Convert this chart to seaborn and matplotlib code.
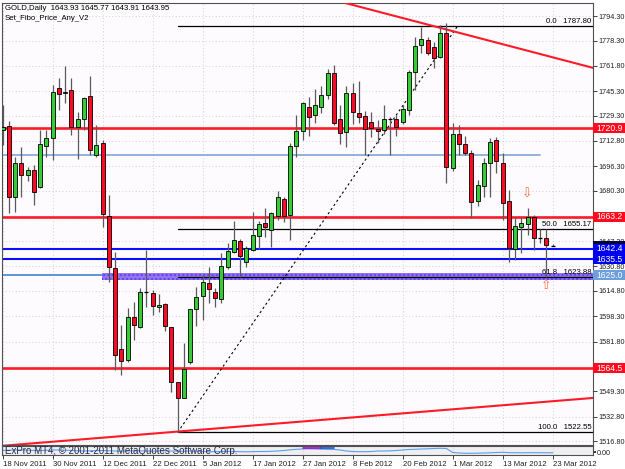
import matplotlib
matplotlib.use("Agg")
import matplotlib.pyplot as plt
from matplotlib.patches import Rectangle
import numpy as np
import pandas as pd
import seaborn as sns

# ---------------- data ----------------
opens = [1719.9, 1722.5, 1676.2, 1698.4, 1690.5, 1693.8, 1682.7, 1709.4, 1714.7, 1747.3,
         1744.0, 1746.0, 1721.9, 1727.1, 1742.1, 1703.6, 1711.4, 1663.8, 1629.8, 1577.0,
         1569.8, 1597.8, 1591.3, 1614.2, 1613.5, 1604.4, 1606.3, 1591.3, 1555.4, 1545.0,
         1568.5, 1603.1, 1611.5, 1620.0, 1614.2, 1609.6, 1630.5, 1640.3, 1647.4, 1633.7,
         1641.6, 1650.7, 1659.2, 1654.6, 1663.8, 1674.9, 1664.4, 1709.4, 1719.2, 1734.9,
         1729.7, 1734.9, 1742.7, 1757.1, 1727.1, 1718.6, 1744.0, 1731.0, 1729.0, 1725.1,
         1720.5, 1719.9, 1727.1, 1727.1, 1725.1, 1732.9, 1757.7, 1775.4, 1778.6, 1774.1,
         1767.5, 1783.2, 1695.1, 1717.3, 1710.8, 1704.9, 1673.6, 1683.3, 1698.4, 1713.4,
         1698.4, 1673.6, 1642.2, 1656.6, 1658.5, 1663.1, 1649.4, 1649.4, 1643.93]
highs = [1736.2, 1725.8, 1702.3, 1708.8, 1695.7, 1697.0, 1719.9, 1719.9, 1749.3, 1753.8,
         1761.7, 1753.8, 1731.6, 1741.4, 1755.1, 1723.2, 1713.4, 1677.5, 1640.3, 1592.6,
         1603.7, 1607.6, 1616.8, 1641.6, 1615.5, 1612.9, 1607.0, 1591.5, 1555.6, 1580.9,
         1603.3, 1617.4, 1625.3, 1630.5, 1616.8, 1639.6, 1646.1, 1660.5, 1648.7, 1644.2,
         1666.4, 1660.5, 1669.0, 1666.4, 1680.1, 1676.2, 1711.4, 1729.7, 1738.2, 1741.4,
         1746.7, 1748.6, 1759.7, 1762.3, 1736.2, 1748.6, 1750.6, 1751.9, 1732.3, 1731.6,
         1726.4, 1736.2, 1728.4, 1729.7, 1736.2, 1759.1, 1780.6, 1787.1, 1780.6, 1777.3,
         1788.4, 1789.7, 1724.5, 1723.2, 1716.0, 1706.8, 1687.3, 1701.6, 1714.7, 1715.3,
         1704.9, 1680.7, 1663.1, 1663.1, 1669.0, 1664.4, 1655.3, 1655.3, 1645.77]
lows = [1710.1, 1665.7, 1666.4, 1676.2, 1686.6, 1670.9, 1682.0, 1702.3, 1700.3, 1732.9,
        1737.5, 1716.6, 1701.0, 1719.9, 1703.6, 1702.3, 1656.6, 1620.7, 1563.2, 1560.0,
        1568.5, 1582.8, 1590.7, 1604.4, 1599.1, 1601.1, 1588.7, 1548.9, 1522.55, 1544.8,
        1567.2, 1592.0, 1595.9, 1607.0, 1604.4, 1607.0, 1629.2, 1639.6, 1623.9, 1630.5,
        1640.9, 1642.2, 1650.1, 1643.5, 1661.2, 1659.8, 1648.1, 1702.3, 1713.4, 1716.0,
        1724.5, 1731.0, 1740.1, 1723.2, 1710.8, 1708.8, 1723.8, 1724.5, 1703.6, 1715.3,
        1711.4, 1717.3, 1703.6, 1716.0, 1723.8, 1729.7, 1746.0, 1770.1, 1768.8, 1760.4,
        1766.9, 1685.3, 1693.1, 1703.6, 1703.6, 1662.5, 1670.3, 1676.2, 1676.2, 1691.8,
        1661.2, 1633.7, 1635.0, 1639.6, 1651.4, 1641.6, 1646.1, 1623.9, 1643.91]
closes = [1721.9, 1676.2, 1698.4, 1690.5, 1693.8, 1679.4, 1710.8, 1714.7, 1744.7, 1743.4,
          1744.7, 1721.9, 1727.1, 1740.8, 1706.8, 1710.1, 1665.1, 1630.5, 1573.0, 1569.1,
          1597.8, 1592.6, 1614.2, 1614.3, 1605.0, 1605.7, 1592.0, 1555.4, 1545.0, 1563.9,
          1603.1, 1610.9, 1620.7, 1616.1, 1610.2, 1631.1, 1640.9, 1648.1, 1637.7, 1642.9,
          1651.4, 1658.5, 1656.6, 1665.7, 1676.2, 1663.8, 1709.4, 1719.2, 1737.5, 1728.4,
          1736.2, 1742.7, 1757.1, 1724.5, 1717.9, 1744.0, 1731.6, 1728.4, 1720.5, 1721.2,
          1719.2, 1727.1, 1727.2, 1721.9, 1733.6, 1757.7, 1774.7, 1779.3, 1770.1, 1766.9,
          1783.2, 1695.7, 1717.3, 1710.8, 1704.9, 1672.9, 1684.0, 1698.4, 1712.1, 1699.7,
          1672.2, 1642.9, 1657.2, 1659.2, 1663.1, 1649.4, 1649.3, 1644.8, 1643.95]

date_labels = ["18 Nov 2011", "30 Nov 2011", "12 Dec 2011", "22 Dec 2011", "5 Jan 2012",
               "17 Jan 2012", "27 Jan 2012", "8 Feb 2012", "20 Feb 2012", "1 Mar 2012",
               "13 Mar 2012", "23 Mar 2012"]
date_label_bars = [0, 8, 16, 24, 32, 40, 48, 56, 64, 72, 80, 88]

price_ticks = [1794.30, 1778.30, 1761.80, 1745.30, 1729.30, 1712.80, 1696.30, 1680.30,
               1663.80, 1647.30, 1630.80, 1614.80, 1598.30, 1581.80, 1565.30, 1549.30,
               1532.80, 1516.80]
hidden_ticks = [1663.80, 1565.30]   # covered by the level boxes in the reference

level_prices = [1720.9, 1663.2, 1642.4, 1635.5, 1625.0, 1564.5]
level_labels = ["1720.9", "1663.2", "1642.4", "1635.5", "1625.0", "1564.5"]
level_colors = ["#ff1a28", "#ff1a28", "#0a10ff", "#0a10ff", "#5f93d8", "#ff1a28"]
level_widths = [1.9, 1.9, 1.5, 1.5, 1.4, 1.9]
level_box_colors = ["#ff0a1e", "#ff0a1e", "#0000f0", "#0000f0", "#6c9ddc", "#ff0a1e"]

fibo_levels = ["0.0", "50.0", "61.8", "100.0"]
fibo_prices = [1787.80, 1655.17, 1623.88, 1522.55]
fibo_anchor_bars = [28.0, 72.8]
fibo_anchor_prices = [1522.55, 1787.80]

steel_line_bars = [-0.5, 86.0]
steel_line_price = 1703.6

band_start_bar = 15.9
band_prices = [1622.0, 1626.6]

upper_trend_bars = [54.8, 94.5]
upper_trend_prices = [1802.8, 1760.4]
lower_trend_bars = [-0.5, 94.5]
lower_trend_prices = [1513.6, 1545.0]

arrow_down = (83.9, 1678.1)
arrow_up = (87.0, 1618.1)

indicator = [0.15, 0.18, 0.2, 0.2, 0.18, 0.15, 0.15, 0.17, 0.2,
             0.2, 0.18, 0.15, 0.12, 0.1, 0.12, 0.15, 0.15, 0.12, 0.1, 0.08, 0.1, 0.12,
             0.12, 0.1, 0.08, 0.1, 0.12, 0.1, 0.08, 0.08, 0.1, 0.1,
             0.05, 0.03, 0.03, 0.05, 0.07, 0.05, 0.03, 0.02, 0.03, 0.05, 0.05, 0.07,
             0.1, 0.15, 0.22, 0.27,
             0.3, 0.32, 0.3, 0.28, 0.27, 0.25, 0.2, 0.1, 0.05, 0.03,
             0.03, 0.05, 0.1, 0.1, 0.12, 0.15,
             0.2, 0.25, 0.27, 0.3, 0.32, 0.35, 0.37, 0.35,
             -0.05, -0.1, -0.13, -0.13, -0.12, -0.1, -0.08, -0.05,
             -0.03,
             -0.07, -0.07, -0.08, -0.07, -0.07, -0.07, -0.08, -0.07]
purple_bars = [48, 49, 50, 51]
purple_vals = [0.37, 0.37, 0.37, 0.37]
navy_bars = [51, 52, 53]
navy_vals = [0.45, 0.45, 0.45]

# ---------------- figure ----------------
sns.set_theme(style="white")
plt.rcParams["font.family"] = ["Liberation Sans", "DejaVu Sans"]

W, H = 625, 469
fig = plt.figure(figsize=(W / 100, H / 100), dpi=100, facecolor="white")
ax = fig.add_axes([2 / W, (H - 445) / H, 591 / W, 442 / H])
ax2 = fig.add_axes([2 / W, (H - 455) / H, 591 / W, 9 / H], sharex=ax)

XMIN, XMAX = -0.11, 94.45
YMIN, YMAX = 1514.27, 1802.79
ax.set_xlim(XMIN, XMAX)
ax.set_ylim(YMIN, YMAX)
ax.set_facecolor("#fdfbfd")

df = pd.DataFrame({"bar": np.arange(len(opens)), "open": opens, "high": highs,
                   "low": lows, "close": closes})

# grid
ax.set_yticks(price_ticks)
ax.set_xticks(date_label_bars)
ax.grid(True, linestyle=(0, (1, 3)), color="#c8c0c8", linewidth=0.6)
ax.set_axisbelow(True)

# horizontal steel line (trend) and levels
ax.plot(steel_line_bars, [steel_line_price] * 2, color="#7ea6d8", lw=1.2, zorder=2)
for p, c, w in zip(level_prices, level_colors, level_widths):
    ax.axhline(p, color=c, lw=w, zorder=2)

# purple band
ax.add_patch(Rectangle((band_start_bar, band_prices[0]), XMAX - band_start_bar,
                       band_prices[1] - band_prices[0], facecolor="#9c70ec",
                       edgecolor="#4a4aff", hatch="....", lw=0, zorder=3))

# fibo lines
for lvl, p in zip(fibo_levels, fibo_prices):
    ax.plot([fibo_anchor_bars[0], XMAX], [p, p], color="black", lw=0.9, zorder=3)
    ax.text(0.997, p + 0.6, f"{lvl}   {p:.2f}", transform=ax.get_yaxis_transform(),
            ha="right", va="bottom", fontsize=5.6, color="black", zorder=6)
sns.lineplot(x=fibo_anchor_bars, y=fibo_anchor_prices, ax=ax, color="black",
             lw=0.8, linestyle=(0, (2, 2.5)), zorder=3)

# red trend lines
sns.lineplot(x=upper_trend_bars, y=upper_trend_prices, ax=ax, color="#ff1a28", lw=1.5, zorder=3)
sns.lineplot(x=lower_trend_bars, y=lower_trend_prices, ax=ax, color="#ff1a28", lw=1.5, zorder=3)

# candles
body_w = 0.64
ax.vlines(df["bar"], df["low"], df["high"], color="#5a5a5a", lw=0.9, zorder=4)
for _, r in df.iterrows():
    o, c = r["open"], r["close"]
    if abs(c - o) < 0.3:
        ax.hlines(o, r["bar"] - body_w / 2, r["bar"] + body_w / 2, color="black", lw=0.9, zorder=5)
        continue
    col = "#36cc36" if c > o else "#ff0a24"
    ax.bar(r["bar"], abs(c - o), bottom=min(o, c), width=body_w, color=col,
           edgecolor="black", linewidth=0.6, zorder=5)

# arrows
ax.text(arrow_down[0], arrow_down[1], "\u21e9", color="#ff6a4a", fontsize=9,
        ha="center", va="center", family="DejaVu Sans", zorder=6)
ax.text(arrow_up[0], arrow_up[1], "\u21e7", color="#ff6a4a", fontsize=9,
        ha="center", va="center", family="DejaVu Sans", zorder=6)

# right price axis
ax.yaxis.tick_right()
ax.set_yticklabels(["" if v in hidden_ticks else f"{v:.2f}" for v in price_ticks])
ax.tick_params(axis="y", right=True, length=3, width=0.6, pad=1.0, labelsize=5.2,
               colors="#202020")
ax.tick_params(axis="x", bottom=False, labelbottom=False)
for s in ax.spines.values():
    s.set_color("#505050")
    s.set_linewidth(0.8)

# label boxes on the price axis
box_w = 32 / 591
box_h = 10 / 1.532
def price_box(p, text, fc):
    ax.add_patch(Rectangle((1.0, p - box_h / 2), box_w, box_h, transform=ax.get_yaxis_transform(),
                           facecolor=fc, edgecolor="none", clip_on=False, zorder=10))
    if text:
        ax.text(1.0 + 3 / 591, p, text, transform=ax.get_yaxis_transform(), ha="left",
                va="center", fontsize=6.2, color="white", clip_on=False, zorder=11)

price_box(closes[-1], "", "#000040")
for p, t, c in zip(level_prices, level_labels, level_box_colors):
    price_box(p, t, c)

# top-left texts
fig.text(5 / W, 1 - 8 / H, f"GOLD,Daily  {opens[-1]:.2f} {highs[-1]:.2f} {lows[-1]:.2f} {closes[-1]:.2f}",
         fontsize=5.6, color="black", va="center", ha="left")
fig.text(5 / W, 1 - 18 / H, "Set_Fibo_Price_Any_V2", fontsize=5.6, color="black",
         va="center", ha="left")

# sub window
ax2.set_ylim(-0.3, 0.6)
ax2.set_facecolor("#efeff2")
sns.lineplot(x=np.arange(len(indicator)), y=indicator, ax=ax2, color="#5aa0e8", lw=0.8)
sns.lineplot(x=purple_bars, y=purple_vals, ax=ax2, color="#b000d0", lw=1.2)
sns.lineplot(x=navy_bars, y=navy_vals, ax=ax2, color="#2050d0", lw=1.2)
ax2.set_yticks([0.0])
ax2.set_yticklabels(["0.00"])
ax2.yaxis.tick_right()
ax2.grid(True, axis="x", linestyle=(0, (1, 2)), color="#c0c0c0", lw=0.5)
ax2.tick_params(axis="y", right=True, length=2, pad=1.0, labelsize=5.2, colors="#202020")
ax2.set_xticks(date_label_bars)
ax2.set_xticklabels(date_labels, ha="left")
ax2.tick_params(axis="x", bottom=True, length=3, width=0.6, pad=1, labelsize=5.6,
                colors="#202020")
plt.setp(ax.get_xticklabels(), visible=False)
for s in ax2.spines.values():
    s.set_color("#505050")
    s.set_linewidth(0.8)
ax2.set_xlabel("")
ax2.set_ylabel("")
ax.set_xlabel("")
ax.set_ylabel("")

fig.text(5 / W, 1 - 451 / H, "ExPro MT4, \u00a9 2001-2011 MetaQuotes Software Corp.",
         fontsize=7, color="#2a2a44", va="center", ha="left")

fig.savefig("out.png", dpi=100)
